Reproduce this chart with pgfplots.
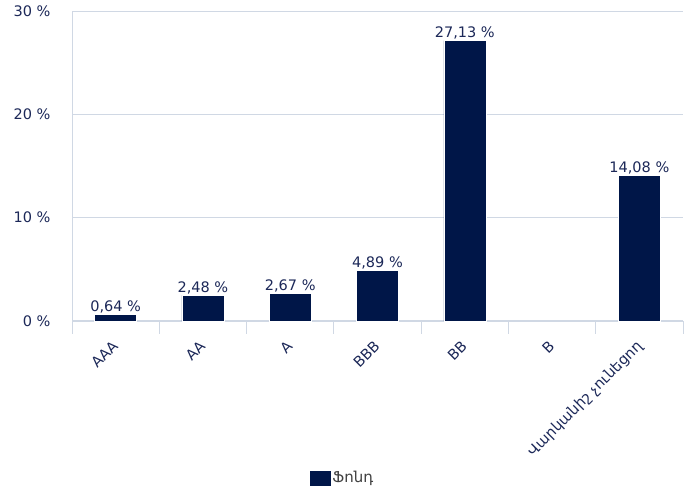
\documentclass[border=0pt]{standalone}
\usepackage{fontspec}
\setmainfont{DejaVu Sans}
\usepackage{pgfplots}
\pgfplotsset{compat=1.18}
\definecolor{barcol}{RGB}{0,22,72}
\definecolor{txt}{RGB}{28,40,88}
\definecolor{gridc}{RGB}{208,216,228}
\definecolor{legtxt}{RGB}{64,64,64}
\begin{document}
\begin{tikzpicture}
\useasboundingbox (0,0) rectangle (693pt,496pt);
\begin{axis}[
  at={(72pt,175pt)}, anchor=south west,
  scale only axis, width=611pt, height=310pt,
  xmin=-0.5, xmax=6.5, ymin=0, ymax=30,
  axis line style={draw=none},
  ytick={0,10,20,30},
  yticklabels={0 \%,10 \%,20 \%,30 \%},
  ymajorgrids, major grid style={gridc, line width=0.9pt},
  major tick length=0pt,
  yticklabel style={font=\fontsize{14.5}{16}\selectfont, text=txt, xshift=-18pt},
  xtick={0,1,2,3,4,5,6},
  xticklabels={AAA,AA,A,BBB,BB,B,Վարկանիշ չունեցող},
  xticklabel style={font=\fontsize{14.5}{16}\selectfont, text=txt, rotate=45, anchor=north east, xshift=-15pt, yshift=-9pt, inner sep=1pt},
  /pgf/number format/assume math mode=true,
  clip=false,
  legend style={at={(0.443,-0.506)}, anchor=center, draw=none, fill=none,
    font=\fontsize{15}{16}\selectfont, text=legtxt,
    legend cell align=left},
  legend image code/.code={\fill[barcol] (0pt,-7pt) rectangle (20pt,7pt);},
]
% axis lines and boundary ticks
\draw[gridc, line width=1pt] (axis cs:-0.5,0) -- (axis cs:-0.5,30);
\draw[gridc, line width=2pt] (axis cs:-0.5,0) -- (axis cs:6.5,0);
\pgfplotsinvokeforeach{-0.5,0.5,1.5,2.5,3.5,4.5,5.5,6.5}{
  \draw[gridc, line width=1pt] (axis cs:#1,0) -- ++(0pt,-13pt);
}
\addplot[ybar, bar width=42pt, fill=barcol, draw=white, line width=0.4pt,
  point meta=explicit symbolic,
  nodes near coords,
  nodes near coords style={font=\fontsize{14.5}{16}\selectfont, text=txt, inner sep=1pt, yshift=0pt}]
coordinates {
  (0,0.64) [0,64 \%]
  (1,2.48) [2,48 \%]
  (2,2.67) [2,67 \%]
  (3,4.89) [4,89 \%]
  (4,27.13) [27,13 \%]
  (6,14.08) [14,08 \%]
};
\addlegendentry{Ֆոնդ}
\end{axis}
\end{tikzpicture}
\end{document}
